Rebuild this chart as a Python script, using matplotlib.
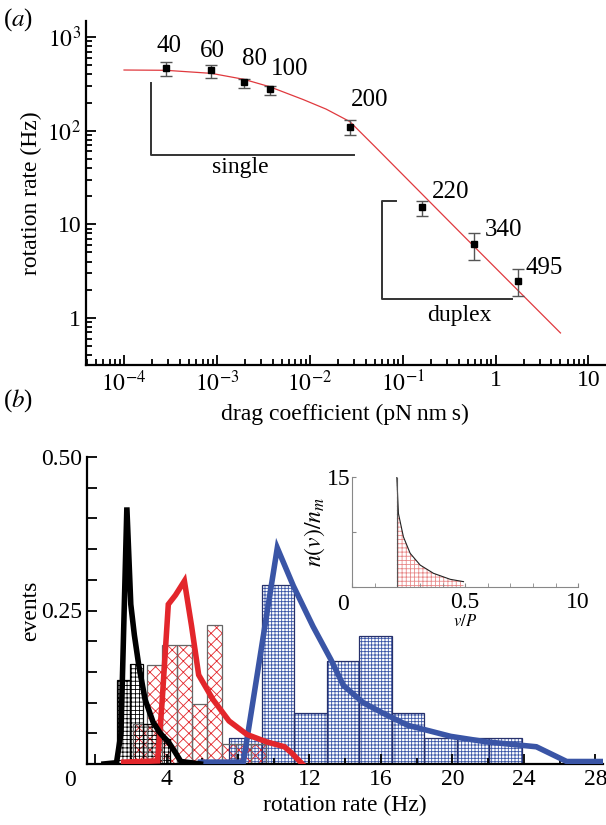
import matplotlib.pyplot as plt
import numpy as np

plt.rcParams['font.family'] = ['Liberation Serif', 'DejaVu Serif']
plt.rcParams['mathtext.fontset'] = 'stix'
plt.rcParams['hatch.linewidth'] = 0.6

# ---- panel (a): rotation rate vs drag coefficient ----
drag = [2.8e-4, 8.7e-4, 1.95e-3, 3.7e-3, 0.027, 0.162, 0.59, 1.76]
rate = [464, 441, 328, 276, 110, 15.2, 6.1, 2.5]
rate_hi = [543, 500, 354, 300, 131, 17.8, 8.1, 3.3]
rate_lo = [384, 365, 288, 240, 91, 12.3, 4.2, 1.7]
bead_labels = ['40', '60', '80', '100', '200', '220', '340', '495']

fit_x = [1e-4, 2.8e-4, 8.7e-4, 1.95e-3, 3.7e-3, 8.5e-3, 0.015, 0.027, 0.05, 0.1, 0.5, 5.0]
fit_y = [445, 442, 410, 354, 295, 215, 170, 125, 68, 34, 6.8, 0.69]

# ---- panel (b): histograms of rotation rate ----
black_left = [1.21, 1.96, 2.71, 3.46]
black_h = [0.136, 0.163, 0.065, 0.04]
black_w = 0.75

red_left = [2.1, 2.93, 3.76, 4.59, 5.42, 6.25, 7.08, 7.91, 8.74]
red_h = [0.065, 0.162, 0.194, 0.194, 0.098, 0.226, 0.033, 0.033, 0.033]
red_w = 0.83

blue_left = [7.5, 9.33, 11.15, 12.97, 14.79, 16.61, 18.43, 20.25, 22.07]
blue_h = [0.042, 0.292, 0.083, 0.167, 0.209, 0.083, 0.042, 0.042, 0.042]
blue_w = 1.82

black_x = [0.5, 1.2, 1.45, 1.78, 2.0, 2.2, 2.45, 2.8, 3.25, 3.65, 4.1, 4.4, 4.8, 5.9]
black_y = [0.0, 0.002, 0.05, 0.418, 0.26, 0.21, 0.16, 0.105, 0.068, 0.05, 0.036, 0.023, 0.004, 0.0]

red_x = [1.6, 3.5, 3.75, 4.1, 4.5, 5.0, 5.4, 5.8, 6.6, 7.5, 8.5, 9.6, 10.6, 11.0, 11.6]
red_y = [0.003, 0.005, 0.1, 0.26, 0.275, 0.298, 0.225, 0.145, 0.105, 0.07, 0.048, 0.036, 0.028, 0.018, 0.0]

blue_x = [5.9, 8.3, 10.2, 11.1, 12.2, 13.2, 13.9, 15.0, 16.1, 17.5, 19.9, 21.9, 24.7, 26.4, 28.45]
blue_y = [0.003, 0.003, 0.352, 0.29, 0.224, 0.17, 0.128, 0.1, 0.083, 0.063, 0.045, 0.036, 0.028, 0.004, 0.004]

# inset: n(v)/n_m vs v/P
inset_x = [0.198, 0.205, 0.227, 0.257, 0.301, 0.36, 0.434, 0.493]
inset_y = [14.96, 10.05, 6.86, 4.6, 3.0, 1.87, 1.05, 0.73]

RED = '#e3262b'
BLUE = '#3a55a6'
FS = 17

fig = plt.figure(figsize=(6.06, 8.25), dpi=100)


def style_axes(ax):
    for s in ['top', 'right']:
        ax.spines[s].set_visible(False)
    for s in ['left', 'bottom']:
        ax.spines[s].set_linewidth(1.6)
    ax.tick_params(which='both', direction='in', width=1.3, labelsize=FS)
    ax.tick_params(which='major', length=7)
    ax.tick_params(which='minor', length=4)


# ---------------- (a) ----------------
ax1 = fig.add_axes([0.142, 0.557, 0.856, 0.418])
style_axes(ax1)
ax1.set_xscale('log')
ax1.set_yscale('log')
ax1.set_xlim(3.9e-5, 15)
ax1.set_ylim(0.31, 1500)

ax1.plot(fit_x, fit_y, color='#e0393e', lw=0.9, zorder=2)
yerr = [np.array(rate) - np.array(rate_lo), np.array(rate_hi) - np.array(rate)]
ax1.errorbar(drag, rate, yerr=yerr, fmt='s', color='black', ms=5,
             ecolor='#555555', elinewidth=1.0, capsize=4, capthick=1.0, zorder=3)

label_off = [(3, 22), (1, 19), (11, 23), (20, 20), (20, 27), (28, 15), (29, 14), (26, 13)]
for x, y, t, off in zip(drag, rate, bead_labels, label_off):
    ax1.annotate(t, (x, y), xytext=off, textcoords='offset pixels',
                 ha='center', va='center', fontsize=18)

# brackets
ax1.plot([1.95e-4, 1.95e-4, 0.030], [320, 55, 55], color='#333333', lw=1.4)
ax1.text(1.78e-3, 40, 'single', ha='center', va='center', fontsize=FS)
ax1.plot([0.085, 0.060, 0.060, 1.52], [17.7, 17.7, 1.6, 1.6], color='#333333', lw=1.4)
ax1.text(0.41, 1.05, 'duplex', ha='center', va='center', fontsize=FS)

ax1.set_xticks([1e-4, 1e-3, 1e-2, 1e-1, 1, 10])
ax1.set_xticklabels([r'$10^{-4}$', r'$10^{-3}$', r'$10^{-2}$', r'$10^{-1}$', '1', '10'])
ax1.set_yticks([1, 10, 100, 1000])
ax1.set_yticklabels(['1', '10', r'$10^{2}$', r'$10^{3}$'])
ax1.set_xlabel('drag coefficient (pN\u2009nm\u2009s)', fontsize=FS, labelpad=6)
ax1.set_ylabel('rotation rate (Hz)', fontsize=FS, labelpad=4)
fig.text(0.005, 0.976, r'($\it{a}$)', fontsize=FS + 1, va='center')

# ---------------- (b) ----------------
ax2 = fig.add_axes([0.1436, 0.074, 0.852, 0.372])
style_axes(ax2)
ax2.set_xlim(-0.45, 28.45)
ax2.set_ylim(0, 0.5)

for left, h, w, col, hatch, edge in [
        (blue_left, blue_h, blue_w, BLUE, '+++++', '#26306b'),
        (red_left, red_h, red_w, RED, 'xxx', '#666666'),
        (black_left, black_h, black_w, 'black', '++++', 'black')]:
    ax2.bar(left, h, width=w, align='edge', fill=False, hatch=hatch,
            edgecolor=col, linewidth=0, zorder=1)
    ax2.bar(left, h, width=w, align='edge', fill=False,
            edgecolor=edge, linewidth=0.9, zorder=1.5)

ax2.plot(blue_x, blue_y, color=BLUE, lw=4, solid_joinstyle='miter', zorder=3)
ax2.plot(red_x, red_y, color=RED, lw=4, solid_joinstyle='miter', zorder=4)
ax2.plot(black_x, black_y, color='black', lw=4, solid_joinstyle='miter', zorder=5)

ax2.set_xticks(np.arange(0, 29, 4))
ax2.set_xticklabels(['', '4', '8', '12', '16', '20', '24', '28'])
ax2.set_xticks(np.arange(2, 28, 4), minor=True)
ax2.set_yticks([0.25, 0.5])
ax2.set_yticklabels(['0.25', '0.50'])
ax2.set_yticks(np.arange(0.05, 0.5, 0.05), minor=True)
ax2.tick_params(axis='y', which='minor', length=7)
ax2.text(-1.4, -0.01, '0', ha='center', va='top', fontsize=FS)
ax2.set_xlabel('rotation rate (Hz)', fontsize=FS, labelpad=4)
ax2.set_ylabel('events', fontsize=FS, labelpad=0)
fig.text(0.005, 0.515, r'($\it{b}$)', fontsize=FS + 1, va='center')

# inset
ax3 = fig.add_axes([0.581, 0.2885, 0.373, 0.133])
for s in ['top', 'right']:
    ax3.spines[s].set_visible(False)
for s in ['left', 'bottom']:
    ax3.spines[s].set_color('#888888')
    ax3.spines[s].set_linewidth(0.8)
ax3.set_xlim(0, 1.0)
ax3.set_ylim(0, 15)
ax3.fill_between(inset_x, inset_y, 0, facecolor='none', edgecolor='#e88a8a',
                 hatch='++++', linewidth=0)
ax3.plot(inset_x, inset_y, color='#222222', lw=0.8)
ax3.plot([inset_x[0], inset_x[0]], [0, inset_y[0]], color='#555555', lw=0.8)
ax3.tick_params(which='both', direction='in', color='#888888', labelsize=FS)
ax3.set_xticks([0, 0.5, 1.0])
ax3.set_xticklabels(['', '0.5', '10'])
ax3.set_xticks(np.arange(0.1, 1.0, 0.1), minor=True)
ax3.tick_params(axis='x', which='both', length=3)
ax3.set_yticks([0, 7.5, 15])
ax3.set_yticklabels(['', '', '15'])
ax3.tick_params(axis='y', length=3, pad=1)
ax3.text(-0.04, -1.0, '0', ha='center', va='top', fontsize=FS)
ax3.set_xlabel(r'$v/P$', fontsize=12, labelpad=1)
ax3.set_ylabel(r'$n(v)/n_m$', fontsize=17, labelpad=0)

fig.savefig('out.png', dpi=100)
